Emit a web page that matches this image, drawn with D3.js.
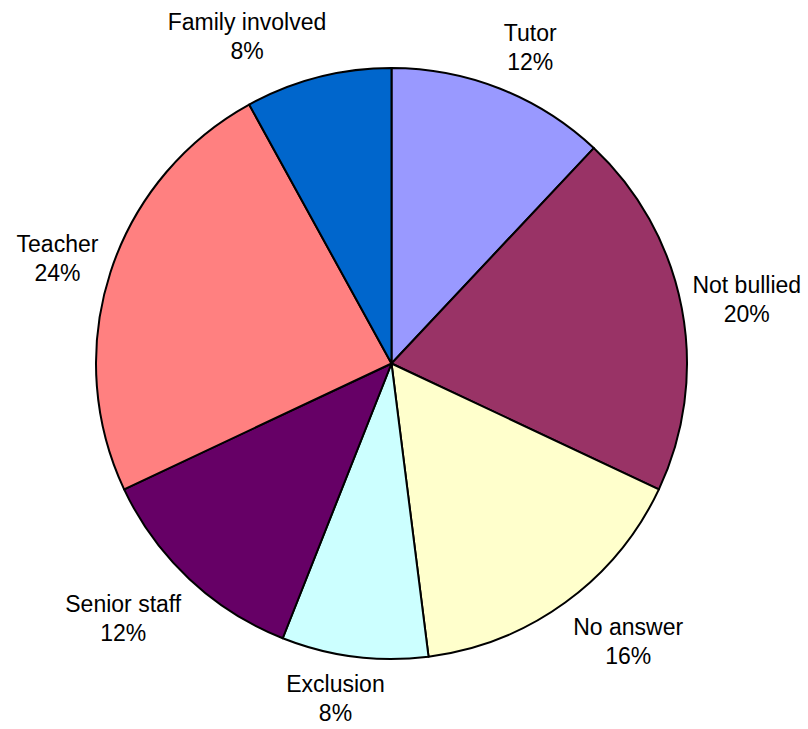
<!DOCTYPE html>
<html>
<head>
<meta charset="utf-8">
<script src="https://cdn.jsdelivr.net/npm/d3@7"></script>
<style>
  html, body { margin: 0; padding: 0; background: #fff; }
  svg { display: block; }
  text { font-family: "Liberation Sans", Arial, sans-serif; font-size: 23px; fill: #000; }
</style>
</head>
<body>
<svg id="chart" width="808" height="729"></svg>
<script>
// Who dealt with the bullying — share of responses, clockwise from 12 o'clock
const categories = ["Tutor", "Not bullied", "No answer", "Exclusion", "Senior staff", "Teacher", "Family involved"];
const shares = [12, 20, 16, 8, 12, 24, 8];
const sliceColors = ["#9999FF", "#993366", "#FFFFCC", "#CCFFFF", "#660066", "#FF8080", "#0066CC"];

// Label placement: shift from the slice's outer edge point to the first text line
const labelNudge = {
  "Tutor": [30, -48],
  "Not bullied": [65, -15],
  "No answer": [63, 32],
  "Exclusion": [-19, 35],
  "Senior staff": [-66, 33],
  "Teacher": [-53, -20],
  "Family involved": [-71, -47]
};

const width = 808, height = 729;
const cx = 391.5, cy = 363.5, radius = 295.5;
const lineGap = 29;

const data = categories.map((c, i) => ({ category: c, value: shares[i] }));

const color = d3.scaleOrdinal().domain(categories).range(sliceColors);

const pie = d3.pie().sort(null).value(d => d.value);
const arcs = pie(data);

const arc = d3.arc().innerRadius(0).outerRadius(radius);
const edge = d3.arc().innerRadius(radius).outerRadius(radius);

const svg = d3.select("#chart");
const g = svg.append("g").attr("transform", `translate(${cx},${cy})`);

g.selectAll("path.slice")
  .data(arcs)
  .join("path")
  .attr("class", "slice")
  .attr("d", arc)
  .attr("fill", d => color(d.data.category))
  .attr("stroke", "#000")
  .attr("stroke-width", 2)
  .attr("stroke-linejoin", "round");

const labels = g.selectAll("text.label")
  .data(arcs)
  .join("text")
  .attr("class", "label")
  .attr("text-anchor", "middle")
  .attr("transform", d => {
    const [x, y] = edge.centroid(d);
    const [dx, dy] = labelNudge[d.data.category];
    return `translate(${x + dx},${y + dy})`;
  });

labels.append("tspan")
  .attr("x", 0)
  .attr("y", 0)
  .text(d => d.data.category);

labels.append("tspan")
  .attr("x", 0)
  .attr("y", lineGap)
  .text(d => `${d.data.value}%`);
</script>
</body>
</html>
